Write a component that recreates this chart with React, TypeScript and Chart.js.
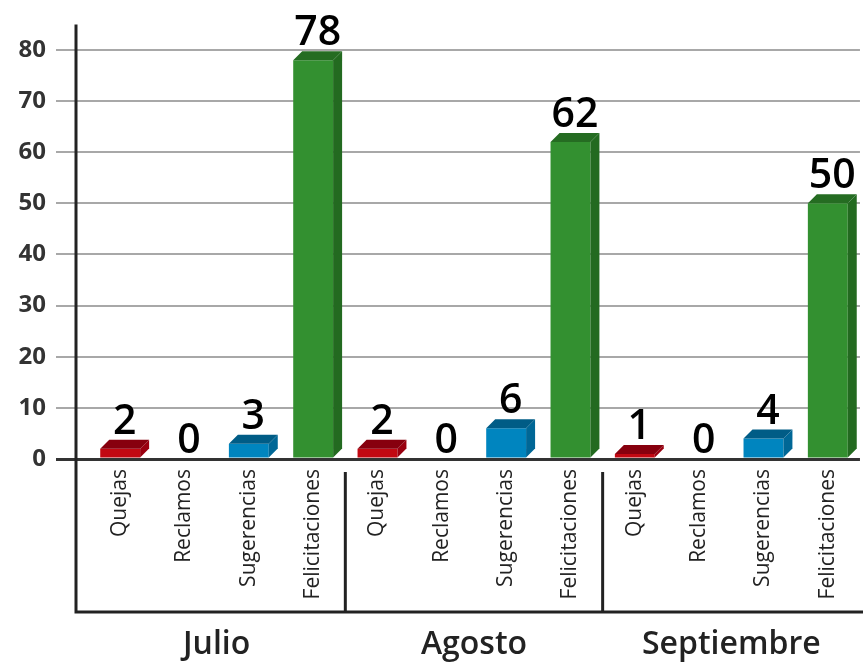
import React, { useEffect, useRef } from 'react';
import { Chart, registerables } from 'chart.js';

Chart.register(...registerables);

const months = ['Julio', 'Agosto', 'Septiembre'];
const types = ['Quejas', 'Reclamos', 'Sugerencias', 'Felicitaciones'];
const julio = [2, 0, 3, 78];
const agosto = [2, 0, 6, 62];
const septiembre = [1, 0, 4, 50];
const yTicks = [0, 10, 20, 30, 40, 50, 60, 70, 80];

const frontColors = ['#c20812', '#d4c600', '#0085bf', '#339030'];
const topColors = ['#87000e', '#8f8800', '#005c86', '#256c22'];
const sideColors = ['#9a0010', '#a89c00', '#006796', '#236a20'];

const values = [...julio, ...agosto, ...septiembre];
const labels = months.flatMap(() => types);
const DEPTH = 9;
const AXIS_GAP = 12;
const FONT = '"Open Sans", "DejaVu Sans", sans-serif';

const bar3d = {
  id: 'bar3d',
  afterDatasetsDraw(chart: any) {
    const ctx = chart.ctx;
    const meta = chart.getDatasetMeta(0);
    ctx.save();
    meta.data.forEach((el: any, i: number) => {
      const v = values[i];
      const t = i % types.length;
      const { x, y, base, width } = el.getProps(['x', 'y', 'base', 'width'], true);
      const l = x - width / 2;
      const r = x + width / 2;
      const d = DEPTH;
      if (v > 0) {
        ctx.fillStyle = sideColors[t];
        ctx.beginPath();
        ctx.moveTo(r, y);
        ctx.lineTo(r + d, y - d);
        ctx.lineTo(r + d, base - d);
        ctx.lineTo(r, base);
        ctx.closePath();
        ctx.fill();
        ctx.fillStyle = topColors[t];
        ctx.beginPath();
        ctx.moveTo(l, y);
        ctx.lineTo(l + d, y - d);
        ctx.lineTo(r + d, y - d);
        ctx.lineTo(r, y);
        ctx.closePath();
        ctx.fill();
      }
      ctx.font = `600 41px ${FONT}`;
      ctx.textAlign = 'center';
      ctx.textBaseline = 'alphabetic';
      ctx.fillStyle = '#000';
      ctx.fillText(String(v), x + d / 2, (v > 0 ? y - d : base) - 6);
    });
    ctx.restore();
  },
};

const frame = {
  id: 'frame',
  afterDraw(chart: any) {
    const { ctx, chartArea } = chart;
    const xs = chart.scales.x;
    const left = chartArea.left - AXIS_GAP;
    const bottom = chartArea.bottom;
    const boxBottom = 612;
    ctx.save();
    ctx.strokeStyle = '#222';
    ctx.lineWidth = 3;
    ctx.beginPath();
    ctx.moveTo(left, chartArea.top);
    ctx.lineTo(left, boxBottom);
    ctx.lineTo(chart.width, boxBottom);
    ctx.stroke();
    const n = types.length;
    for (let g = 1; g < months.length; g++) {
      const sx = (xs.getPixelForValue(g * n - 1) + xs.getPixelForValue(g * n)) / 2;
      ctx.beginPath();
      ctx.moveTo(sx, bottom + 13);
      ctx.lineTo(sx, boxBottom);
      ctx.stroke();
    }
    ctx.font = `600 32px ${FONT}`;
    ctx.fillStyle = '#222';
    ctx.textAlign = 'center';
    ctx.textBaseline = 'middle';
    months.forEach((m, g) => {
      const cx = (xs.getPixelForValue(g * n) + xs.getPixelForValue(g * n + n - 1)) / 2;
      ctx.fillText(m, cx, 645);
    });
    ctx.restore();
  },
};

export default function App() {
  const ref = useRef<HTMLCanvasElement | null>(null);
  useEffect(() => {
    if (!ref.current) return;
    const chart = new Chart(ref.current, {
      type: 'bar',
      data: {
        labels,
        datasets: [
          {
            data: values,
            backgroundColor: values.map((_, i) => frontColors[i % types.length]),
            barPercentage: 0.62,
            categoryPercentage: 1,
          },
        ],
      },
      options: {
        animation: false,
        responsive: false,
        layout: { padding: { top: 15, right: 0, left: 0, bottom: 0 } },
        plugins: { legend: { display: false }, tooltip: { enabled: false } },
        scales: {
          x: {
            grid: { display: false, drawTicks: false },
            border: { display: false },
            ticks: {
              minRotation: 90,
              maxRotation: 90,
              autoSkip: false,
              padding: 10,
              color: '#222',
              font: { family: FONT, size: 21 },
            },
            afterFit: (s: any) => {
              s.height = 206;
            },
          },
          y: {
            min: 0,
            max: 85,
            afterBuildTicks: (s: any) => {
              s.ticks = yTicks.map((v) => ({ value: v }));
            },
            grid: {
              color: (c: any) => (c.tick && c.tick.value === 0 ? '#333' : '#a8a8a8'),
              lineWidth: (c: any) => (c.tick && c.tick.value === 0 ? 3 : 2),
              tickLength: 32,
            },
            border: { display: false },
            ticks: {
              padding: 10,
              color: '#333',
              font: { family: FONT, size: 24, weight: 'bold' },
            },
            afterFit: (s: any) => {
              s.width = 88;
            },
          },
        },
      },
      plugins: [bar3d, frame],
    });
    return () => chart.destroy();
  }, []);
  return (
    <div style={{ position: 'fixed', left: 0, top: 0, width: 863, height: 665, background: '#fff' }}>
      <canvas ref={ref} width={863} height={665} style={{ display: 'block' }} />
    </div>
  );
}
